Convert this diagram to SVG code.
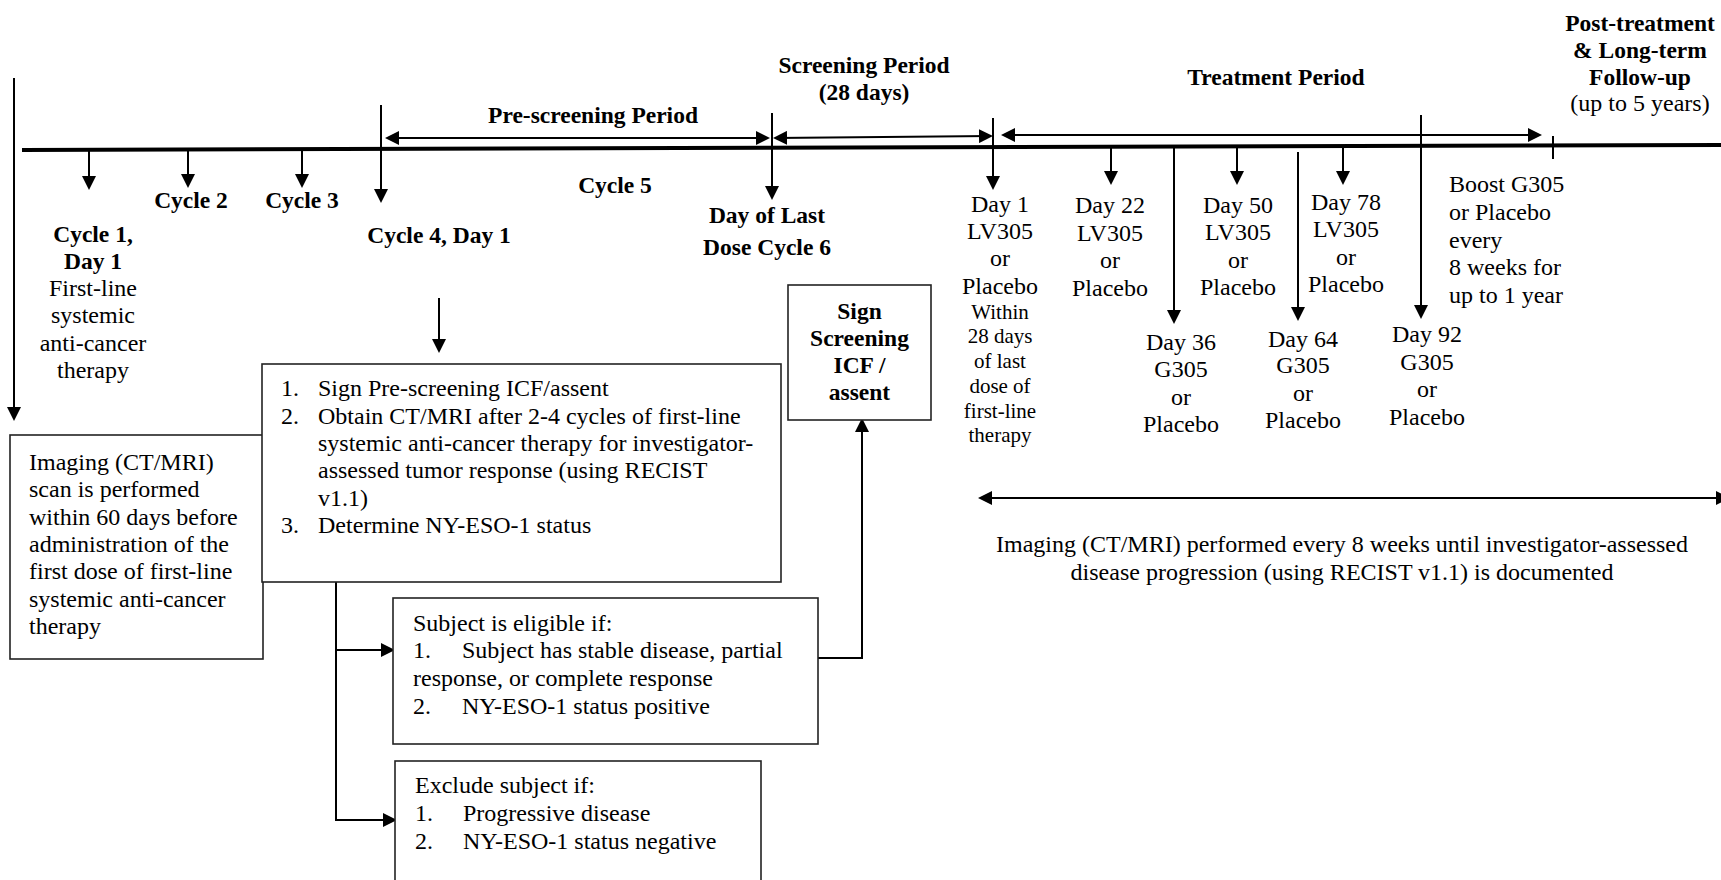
<svg xmlns="http://www.w3.org/2000/svg" width="1721" height="880" viewBox="0 0 1721 880">
<defs>
<marker id="ah" viewBox="0 0 14 14" refX="12" refY="7" markerWidth="14" markerHeight="14" markerUnits="userSpaceOnUse" orient="auto-start-reverse"><path d="M0,0 L14,7 L0,14 z" fill="#000"/></marker>
<style>
.t{font-family:"Liberation Serif","Times New Roman",serif;font-size:24px;fill:#000}
.b{font-weight:bold;font-size:23.5px}
.s{font-size:21px}
.c{text-anchor:middle}
.ln{stroke:#000;stroke-width:2;fill:none}
.ar{stroke:#000;stroke-width:2;fill:none;marker-end:url(#ah)}
.da{stroke:#000;stroke-width:2;fill:none;marker-start:url(#ah);marker-end:url(#ah)}
.box{fill:#fff;stroke:#222;stroke-width:1.6}
</style>
</defs>
<rect width="1721" height="880" fill="#fff"/>

<g id="connectors">
<line x1="22" y1="150" x2="1721" y2="145" stroke="#000" stroke-width="4"/>
<line class="ar" x1="14" y1="78" x2="14" y2="419"/>
<line class="ar" x1="89" y1="150" x2="89" y2="188"/>
<line class="ar" x1="188" y1="150" x2="188" y2="186"/>
<line class="ar" x1="302" y1="149" x2="302" y2="186"/>
<line class="ar" x1="381" y1="105" x2="381" y2="201"/>
<line class="ar" x1="772" y1="113" x2="772" y2="198"/>
<line class="ar" x1="993" y1="118" x2="993" y2="188"/>
<line class="ar" x1="1111" y1="146" x2="1111" y2="183"/>
<line class="ar" x1="1174" y1="145" x2="1174" y2="322"/>
<line class="ar" x1="1237" y1="146" x2="1237" y2="183"/>
<line class="ar" x1="1298" y1="152" x2="1298" y2="319"/>
<line class="ar" x1="1343" y1="146" x2="1343" y2="183"/>
<line class="ar" x1="1421" y1="115" x2="1421" y2="317"/>
<line class="ln" x1="1553" y1="136" x2="1553" y2="159"/>
<line class="da" x1="387" y1="138" x2="768" y2="138"/>
<line class="da" x1="775" y1="138" x2="991" y2="136"/>
<line class="da" x1="1003" y1="135" x2="1540" y2="135"/>
<line class="da" x1="980" y1="498" x2="1728" y2="498" stroke-width="2.5"/>
<line class="ar" x1="439" y1="298" x2="439" y2="351"/>
<line class="ln" x1="336" y1="582" x2="336" y2="820"/>
<line class="ar" x1="335" y1="650" x2="393" y2="650"/>
<line class="ar" x1="335" y1="820" x2="395" y2="820"/>
<polyline class="ar" points="818,658 862,658 862,420"/>
</g>

<g id="cycle1">
<text class="t b c" x="93" y="242">Cycle 1,</text>
<text class="t b c" x="93" y="269">Day 1</text>
<text class="t c" x="93" y="296">First-line</text>
<text class="t c" x="93" y="323">systemic</text>
<text class="t c" x="93" y="351">anti-cancer</text>
<text class="t c" x="93" y="378">therapy</text>
</g>
<g id="cycle2"><text class="t b c" x="191" y="208">Cycle 2</text></g>
<g id="cycle3"><text class="t b c" x="302" y="208">Cycle 3</text></g>
<g id="cycle4"><text class="t b c" x="439" y="243">Cycle 4, Day 1</text></g>
<g id="cycle5"><text class="t b c" x="615" y="193">Cycle 5</text></g>
<g id="prescreening-period"><text class="t b c" x="593" y="123">Pre-screening Period</text></g>
<g id="screening-period">
<text class="t b c" x="864" y="73">Screening Period</text>
<text class="t b c" x="864" y="100">(28 days)</text>
</g>
<g id="last-dose">
<text class="t b c" x="767" y="223">Day of Last</text>
<text class="t b c" x="767" y="255">Dose Cycle 6</text>
</g>
<g id="treatment-period"><text class="t b c" x="1276" y="85">Treatment Period</text></g>
<g id="followup">
<text class="t b c" x="1640" y="31">Post-treatment</text>
<text class="t b c" x="1640" y="58">&amp; Long-term</text>
<text class="t b c" x="1640" y="85">Follow-up</text>
<text class="t c" x="1640" y="111">(up to 5 years)</text>
</g>

<g id="day1">
<text class="t c" x="1000" y="212">Day 1</text>
<text class="t c" x="1000" y="239">LV305</text>
<text class="t c" x="1000" y="266">or</text>
<text class="t c" x="1000" y="294">Placebo</text>
<text class="t s c" x="1000" y="319">Within</text>
<text class="t s c" x="1000" y="343">28 days</text>
<text class="t s c" x="1000" y="368">of last</text>
<text class="t s c" x="1000" y="393">dose of</text>
<text class="t s c" x="1000" y="418">first-line</text>
<text class="t s c" x="1000" y="442">therapy</text>
</g>
<g id="day22">
<text class="t c" x="1110" y="213">Day 22</text>
<text class="t c" x="1110" y="241">LV305</text>
<text class="t c" x="1110" y="268">or</text>
<text class="t c" x="1110" y="296">Placebo</text>
</g>
<g id="day36">
<text class="t c" x="1181" y="350">Day 36</text>
<text class="t c" x="1181" y="377">G305</text>
<text class="t c" x="1181" y="405">or</text>
<text class="t c" x="1181" y="432">Placebo</text>
</g>
<g id="day50">
<text class="t c" x="1238" y="213">Day 50</text>
<text class="t c" x="1238" y="240">LV305</text>
<text class="t c" x="1238" y="268">or</text>
<text class="t c" x="1238" y="295">Placebo</text>
</g>
<g id="day64">
<text class="t c" x="1303" y="347">Day 64</text>
<text class="t c" x="1303" y="373">G305</text>
<text class="t c" x="1303" y="401">or</text>
<text class="t c" x="1303" y="428">Placebo</text>
</g>
<g id="day78">
<text class="t c" x="1346" y="210">Day 78</text>
<text class="t c" x="1346" y="237">LV305</text>
<text class="t c" x="1346" y="265">or</text>
<text class="t c" x="1346" y="292">Placebo</text>
</g>
<g id="day92">
<text class="t c" x="1427" y="342">Day 92</text>
<text class="t c" x="1427" y="370">G305</text>
<text class="t c" x="1427" y="397">or</text>
<text class="t c" x="1427" y="425">Placebo</text>
</g>
<g id="boost">
<text class="t" x="1449" y="192">Boost G305</text>
<text class="t" x="1449" y="220">or Placebo</text>
<text class="t" x="1449" y="248">every</text>
<text class="t" x="1449" y="275">8 weeks for</text>
<text class="t" x="1449" y="303">up to 1 year</text>
</g>

<g id="imaging-baseline">
<rect class="box" x="10" y="435" width="253" height="224"/>
<text class="t" x="29" y="470">Imaging (CT/MRI)</text>
<text class="t" x="29" y="497">scan is performed</text>
<text class="t" x="29" y="525">within 60 days before</text>
<text class="t" x="29" y="552">administration of the</text>
<text class="t" x="29" y="579">first dose of first-line</text>
<text class="t" x="29" y="607">systemic anti-cancer</text>
<text class="t" x="29" y="634">therapy</text>
</g>
<g id="prescreening-box">
<rect class="box" x="262" y="364" width="519" height="218"/>
<text class="t" x="281" y="396">1.</text><text class="t" x="318" y="396">Sign Pre-screening ICF/assent</text>
<text class="t" x="281" y="424">2.</text><text class="t" x="318" y="424">Obtain CT/MRI after 2-4 cycles of first-line</text>
<text class="t" x="318" y="451">systemic anti-cancer therapy for investigator-</text>
<text class="t" x="318" y="478">assessed tumor response (using RECIST</text>
<text class="t" x="318" y="506">v1.1)</text>
<text class="t" x="281" y="533">3.</text><text class="t" x="318" y="533">Determine NY-ESO-1 status</text>
</g>
<g id="sign-screening">
<rect class="box" x="788" y="285" width="143" height="135"/>
<text class="t b c" x="859.5" y="319">Sign</text>
<text class="t b c" x="859.5" y="346">Screening</text>
<text class="t b c" x="859.5" y="373">ICF /</text>
<text class="t b c" x="859.5" y="400">assent</text>
</g>
<g id="eligible">
<rect class="box" x="393" y="598" width="425" height="146"/>
<text class="t" x="413" y="631">Subject is eligible if:</text>
<text class="t" x="413" y="658">1.</text><text class="t" x="462" y="658">Subject has stable disease, partial</text>
<text class="t" x="413" y="686">response, or complete response</text>
<text class="t" x="413" y="714">2.</text><text class="t" x="462" y="714">NY-ESO-1 status positive</text>
</g>
<g id="exclude">
<rect class="box" x="395" y="761" width="366" height="140"/>
<text class="t" x="415" y="793">Exclude subject if:</text>
<text class="t" x="415" y="821">1.</text><text class="t" x="463" y="821">Progressive disease</text>
<text class="t" x="415" y="849">2.</text><text class="t" x="463" y="849">NY-ESO-1 status negative</text>
</g>
<g id="imaging-followup">
<text class="t c" x="1342" y="552">Imaging (CT/MRI) performed every 8 weeks until investigator-assessed</text>
<text class="t c" x="1342" y="580">disease progression (using RECIST v1.1) is documented</text>
</g>
</svg>
